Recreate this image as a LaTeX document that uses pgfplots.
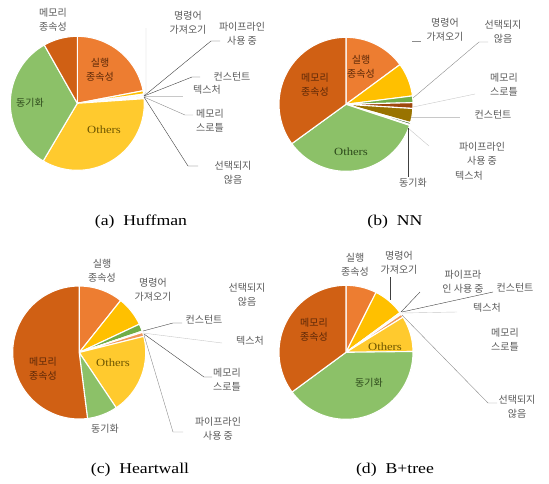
\documentclass[border=0pt]{standalone}
\usepackage{pgfplots}
\pgfplotsset{compat=1.18}
\usepackage{fontspec}
\setmainfont{Liberation Serif}
\newfontfamily\kr{Noto Sans CJK KR}
\newfontfamily\capfont[FakeStretch=1.18]{Liberation Serif}
\newfontfamily\othfont[FakeStretch=1.15]{Liberation Serif}

% slice colours, in the order the categories are stacked
\definecolor{c1}{HTML}{ED7D31}  % 실행 종속성
\definecolor{c2}{HTML}{FFC000}  % 명령어 가져오기
\definecolor{c3}{HTML}{70AD47}
\definecolor{c4}{HTML}{9E480E}
\definecolor{c5}{HTML}{997300}
\definecolor{c6}{HTML}{43682B}
\definecolor{c7}{HTML}{F1975A}
\definecolor{c8}{HTML}{FFCA2E}  % Others
\definecolor{c9}{HTML}{8CC168}  % 동기화
\definecolor{c10}{HTML}{D06014} % 메모리 종속성
\definecolor{labgray}{HTML}{595959}
\definecolor{dkbrown}{HTML}{5C2808}
\definecolor{dkgreen}{HTML}{2E4A1C}
\definecolor{dkgold}{HTML}{6E5600}
\definecolor{ldark}{HTML}{404040}
\definecolor{lmid}{HTML}{8C8C8C}
\definecolor{llight}{HTML}{C8C8C8}

% start a pie: centre x, centre y, radius (axis units)
\newcommand\pie[3]{\gdef\pcx{#1}\gdef\pcy{#2}\gdef\pr{#3}\gdef\pcum{0}}
% one slice: colour, percentage; slices run clockwise from 12 o'clock
\newcommand\slice[2]{%
  \pgfmathsetmacro\pieA{90-3.6*\pcum}%
  \pgfmathsetmacro\pcumnew{\pcum+#2}%
  \pgfmathsetmacro\pieB{min(90-3.6*\pcumnew,\pieA-0.02)}%
  \xdef\pcum{\pcumnew}%
  \pgfmathtruncatemacro\pieN{ceil(1.2*#2)+2}%
  \edef\doslice{\noexpand\addplot[fill=#1, draw=white, line width=1.1pt,
      line join=round, domain=\pieB:\pieA, samples=\pieN]
      ({\pcx+\pr*cos(\noexpand\x)},{\pcy-\pr*sin(\noexpand\x)})
      -- (axis cs:\pcx,\pcy) -- cycle;}%
  \doslice}

\tikzset{
  pielab/.style={font=\kr\fontsize{10}{14}\selectfont, text=labgray, align=center, inner sep=0pt},
  pieinl/.style={font=\kr\fontsize{10}{14}\selectfont, align=center, inner sep=0pt},
  pieoth/.style={font=\othfont\fontsize{11}{13}\selectfont, inner sep=0pt},
  piecap/.style={font=\capfont\fontsize{15}{18}\selectfont, text=black, inner sep=0pt},
}

\begin{document}
\begin{tikzpicture}
\begin{axis}[
  width=549pt, height=483pt, scale only axis,
  xmin=0, xmax=549, ymin=0, ymax=483, y dir=reverse,
  hide axis, clip=false,
]
% keeps the whole canvas in the picture's bounding box
\addplot[draw=none, forget plot] coordinates {(0,0) (549,483)};

% ---------------- (a) Huffman ----------------
\pie{77.3}{103.3}{67}
\slice{c1}{22.0}\slice{c2}{0.8}\slice{c3}{0.3}\slice{c4}{0.1}\slice{c5}{0.1}
\slice{c6}{0.3}\slice{c7}{0.3}\slice{c8}{34.6}\slice{c9}{33.3}\slice{c10}{8.2}
\addplot[llight, thin] coordinates {(146,28) (146,92) (144,95)};
\addplot[ldark, thin] coordinates {(144,96) (211,41) (220,41)};
\addplot[ldark, thin] coordinates {(144,96) (192,77) (200,77)};
\addplot[llight, thin] coordinates {(144,96) (183,96)};
\addplot[lmid, thin] coordinates {(144,97) (185,115) (193,115)};
\addplot[ldark, thin] coordinates {(144,97) (188,166) (198,166)};
\node[pielab] at (axis cs:53,19.5) {메모리\\종속성};
\node[pieinl, text=dkbrown] at (axis cs:100,70) {실행\\종속성};
\node[pieinl, text=dkgreen] at (axis cs:30,103) {동기화};
\node[pieoth, text=dkgold] at (axis cs:104,130) {Others};
\node[pielab] at (axis cs:188,22.5) {명령어\\가져오기};
\node[pielab] at (axis cs:242,34) {파이프라인\\사용 중};
\node[pielab] at (axis cs:232,77) {컨스턴트};
\node[pielab] at (axis cs:207,90) {텍스처};
\node[pielab] at (axis cs:210,121) {메모리\\스로틀};
\node[pielab] at (axis cs:233,172.5) {선택되지\\않음};
\node[piecap] at (axis cs:141,222) {(a)\ \ Huffman};

% ---------------- (b) NN ----------------
\pie{346}{104.3}{67}
\slice{c1}{14.9}\slice{c2}{8.1}\slice{c3}{1.6}\slice{c4}{1.4}\slice{c5}{3.4}
\slice{c6}{0.5}\slice{c7}{0.2}\slice{c8}{0.0}\slice{c9}{34.9}\slice{c10}{35.0}
\addplot[lmid, thin] coordinates {(412,41) (421,41)};
\addplot[lmid, thin] coordinates {(413,98) (479,42) (488,42)};
\addplot[llight, thin] coordinates {(413,107) (475,94)};
\addplot[llight, thin] coordinates {(411,117) (460,117)};
\addplot[llight, thin] coordinates {(408,128) (429,146)};
\addplot[ldark, thin] coordinates {(408,128) (408,177)};
\node[pieinl, text=dkbrown] at (axis cs:361,67) {실행\\종속성};
\node[pieinl, text=dkbrown] at (axis cs:315,84.5) {메모리\\종속성};
\node[pieoth, text=dkgreen] at (axis cs:351,152) {Others};
\node[pielab] at (axis cs:445,30) {명령어\\가져오기};
\node[pielab] at (axis cs:503,31.5) {선택되지\\않음};
\node[pielab] at (axis cs:504,85) {메모리\\스로틀};
\node[pielab] at (axis cs:493,115) {컨스턴트};
\node[pielab] at (axis cs:482,154) {파이프라인\\사용 중};
\node[pielab] at (axis cs:469,176) {텍스처};
\node[pielab] at (axis cs:413,183) {동기화};
\node[piecap] at (axis cs:395,222) {(b)\ \ NN};

% ---------------- (c) Heartwall ----------------
\pie{79.2}{352.5}{66.5}
\slice{c1}{10.7}\slice{c2}{7.3}\slice{c3}{1.8}\slice{c4}{0.1}\slice{c5}{0.1}
\slice{c6}{0.1}\slice{c7}{1.0}\slice{c8}{19.5}\slice{c9}{7.4}\slice{c10}{52.0}
\addplot[ldark, thin] coordinates {(143,331) (173,323) (182,323)};
\addplot[llight, thin] coordinates {(143,333) (222,343)};
\addplot[ldark, thin] coordinates {(144,334) (204,377) (212,377)};
\addplot[lmid, thin] coordinates {(144,335) (173,432) (183,432)};
\node[pielab] at (axis cs:102,270.5) {실행\\종속성};
\node[pielab] at (axis cs:153,289.5) {명령어\\가져오기};
\node[pielab] at (axis cs:247,295) {선택되지\\않음};
\node[pielab] at (axis cs:204,320) {컨스턴트};
\node[pielab] at (axis cs:250,341) {텍스처};
\node[pielab] at (axis cs:227,380) {메모리\\스로틀};
\node[pielab] at (axis cs:218,428.5) {파이프라인\\사용 중};
\node[pieinl, text=dkbrown] at (axis cs:43,369) {메모리\\종속성};
\node[pieoth, text=dkgold] at (axis cs:113,363) {Others};
\node[pielab] at (axis cs:105,429) {동기화};
\node[piecap] at (axis cs:140,470) {(c)\ \ Heartwall};

% ---------------- (d) B+tree ----------------
\pie{346}{352.3}{67}
\slice{c1}{7.4}\slice{c2}{7.5}\slice{c3}{0.2}\slice{c4}{0.1}\slice{c5}{0.1}
\slice{c6}{0.1}\slice{c7}{0.8}\slice{c8}{8.6}\slice{c9}{40.1}\slice{c10}{35.1}
\addplot[ldark, thin] coordinates {(390,277) (390,300)};
\addplot[ldark, thin] coordinates {(401,312) (420,292)};
\addplot[ldark, thin] coordinates {(402,312) (493,292)};
\addplot[llight, thin] coordinates {(402,313) (457,312)};
\addplot[lmid, thin] coordinates {(402,315) (488,403) (497,403)};
\node[pielab] at (axis cs:355,264.5) {실행\\종속성};
\node[pielab] at (axis cs:399,263) {명령어\\가져오기};
\node[pielab] at (axis cs:463,281.5) {파이프라\\인 사용 중};
\node[pielab] at (axis cs:515,288) {컨스턴트};
\node[pielab] at (axis cs:487,308) {텍스처};
\node[pielab] at (axis cs:505,339.5) {메모리\\스로틀};
\node[pielab] at (axis cs:517,407) {선택되지\\않음};
\node[pieinl, text=dkbrown] at (axis cs:314,329.5) {메모리\\종속성};
\node[pieoth, text=dkgold] at (axis cs:385,347) {Others};
\node[pieinl, text=dkgreen] at (axis cs:369,383) {동기화};
\node[piecap] at (axis cs:395,470) {(d)\ \ B+tree};
\end{axis}
\end{tikzpicture}
\end{document}
